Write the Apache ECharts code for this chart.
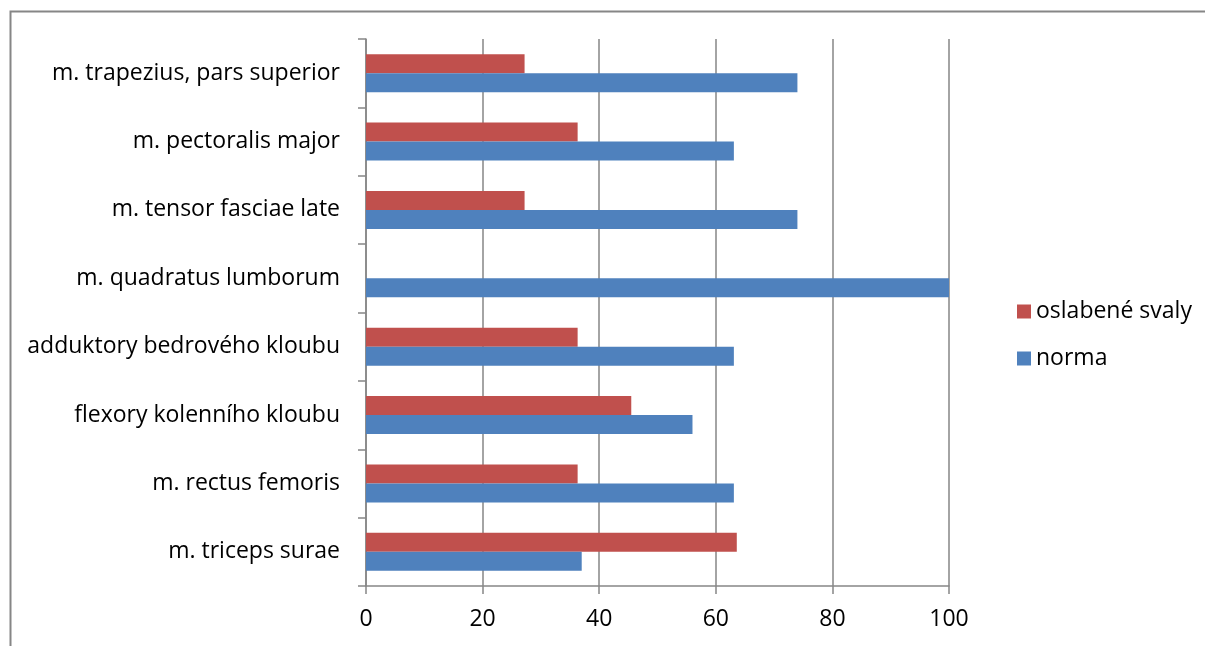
<!DOCTYPE html>
<html>
<head>
<meta charset="utf-8">
<script src="https://cdn.jsdelivr.net/npm/echarts@6/dist/echarts.min.js"></script>
<style>
  html, body { margin: 0; padding: 0; background: #fff; }
  #chart { width: 1205px; height: 646px; }
</style>
</head>
<body>
<div id="chart"></div>
<script>
// Categories listed bottom to top along the y axis
const categories = [
  'm. triceps surae',
  'm. rectus femoris',
  'flexory kolenního kloubu',
  'adduktory bedrového kloubu',
  'm. quadratus lumborum',
  'm. tensor fasciae late',
  'm. pectoralis major',
  'm. trapezius, pars superior'
];
const oslabeneSvaly = [63.6, 36.3, 45.5, 36.3, 0, 27.2, 36.3, 27.2];
const norma = [37.0, 63.1, 56.0, 63.1, 100, 74.0, 63.1, 74.0];
const xTicks = { min: 0, max: 100, interval: 20 };

const FONT = '"Open Sans", sans-serif';
const FONT_SIZE = 23;
const GRAY = '#868686';

const chart = echarts.init(document.getElementById('chart'), null, { renderer: 'canvas' });
chart.setOption({
  animation: false,
  backgroundColor: '#fff',
  textStyle: { fontFamily: FONT, color: '#000' },
  graphic: [{
    type: 'rect',
    left: 8, top: 9,
    shape: { width: 1300, height: 700 },
    style: { fill: 'none', stroke: GRAY, lineWidth: 2 },
    silent: true
  }],
  grid: { left: 366, right: 256, top: 39, bottom: 60, containLabel: false },
  legend: {
    orient: 'vertical',
    left: 1012, top: 295,
    itemWidth: 14, itemHeight: 14, itemGap: 24,
    icon: 'rect',
    data: ['oslabené svaly', 'norma'],
    textStyle: { fontFamily: FONT, fontSize: FONT_SIZE, color: '#000' }
  },
  xAxis: {
    type: 'value',
    min: xTicks.min, max: xTicks.max, interval: xTicks.interval,
    axisLine: { show: true, lineStyle: { color: GRAY, width: 1.5 } },
    axisTick: { show: true, length: 8, lineStyle: { color: GRAY, width: 1.5 } },
    splitLine: { show: true, lineStyle: { color: GRAY, width: 1.5 } },
    axisLabel: { fontFamily: FONT, fontSize: FONT_SIZE, color: '#000', margin: 22 }
  },
  yAxis: {
    type: 'category',
    data: categories,
    axisLine: { show: true, lineStyle: { color: GRAY, width: 1.5 } },
    axisTick: { show: true, length: 8, lineStyle: { color: GRAY, width: 1.5 } },
    axisLabel: { fontFamily: FONT, fontSize: FONT_SIZE, color: '#000', margin: 26 }
  },
  series: [
    {
      name: 'oslabené svaly', type: 'bar', data: oslabeneSvaly,
      itemStyle: { color: '#C0504D' },
      barWidth: 19, barGap: '0%'
    },
    {
      name: 'norma', type: 'bar', data: norma,
      itemStyle: { color: '#4F81BD' },
      barWidth: 19, barGap: '0%'
    }
  ]
});
</script>
</body>
</html>
